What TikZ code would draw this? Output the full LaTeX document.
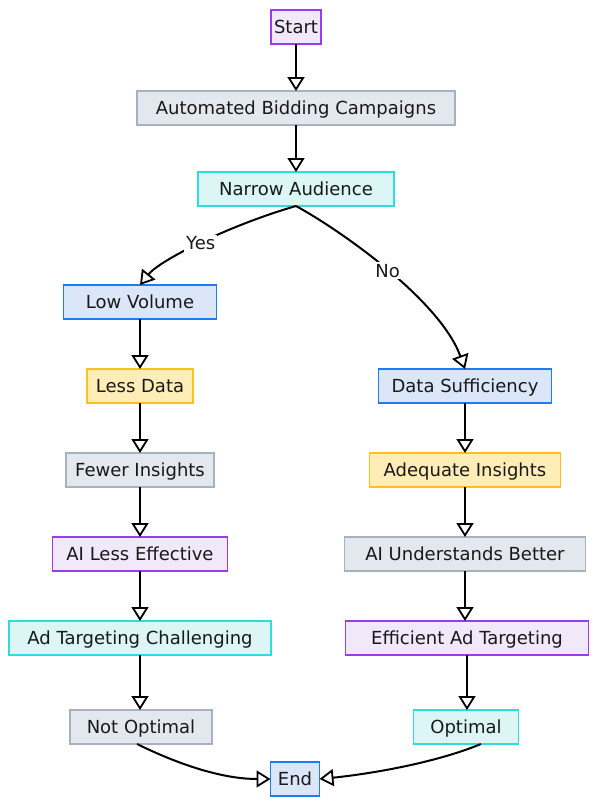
\documentclass[tikz,border=0pt]{standalone}
\usepackage{fontspec}
\setmainfont{DejaVu Sans}
\usetikzlibrary{arrows.meta}

\definecolor{purpleline}{HTML}{9A3BF0}
\definecolor{purplefill}{HTML}{F1E8FA}
\definecolor{grayline}{HTML}{A8B2BE}
\definecolor{grayfill}{HTML}{E3E7EE}
\definecolor{cyanline}{HTML}{2FDCDC}
\definecolor{cyanfill}{HTML}{DCF5F5}
\definecolor{blueline}{HTML}{1C7CF0}
\definecolor{bluefill}{HTML}{DBE6F8}
\definecolor{yellowline}{HTML}{FFC01E}
\definecolor{yellowfill}{HTML}{FFEDB8}

\begin{document}
\begin{tikzpicture}[x=1pt, y=-1pt,
  every node/.style={font=\fontsize{18}{21}\selectfont, text=black!90},
  box/.style={draw, line width=1.8pt, minimum height=34pt, inner sep=0pt, outer sep=0pt,
    text height=16pt, text depth=3pt},
  purplebox/.style={box, draw=purpleline, fill=purplefill},
  graybox/.style={box, draw=grayline, fill=grayfill},
  cyanbox/.style={box, draw=cyanline, fill=cyanfill},
  bluebox/.style={box, draw=blueline, fill=bluefill},
  yellowbox/.style={box, draw=yellowline, fill=yellowfill},
  arr/.style={line width=2pt, -{Triangle[open, length=14pt, width=17pt, line width=1.8pt]}},
  lbl/.style={fill=white, inner sep=2pt}]
\useasboundingbox (0,0) rectangle (598,806);

\node[purplebox, minimum width=50pt] (start) at (296,27) {Start};
\node[graybox, minimum width=318pt] (abc) at (296,108) {Automated Bidding Campaigns};
\node[cyanbox, minimum width=196pt] (na) at (296,189) {Narrow Audience};

% left branch
\node[bluebox, minimum width=153pt] (lv) at (140,302) {Low Volume};
\node[yellowbox, minimum width=106pt] (ld) at (140,386) {Less Data};
\node[graybox, minimum width=148pt] (fi) at (140,470) {Fewer Insights};
\node[purplebox, minimum width=175pt] (ale) at (140,554) {AI Less Effective};
\node[cyanbox, minimum width=262pt] (atc) at (140,638) {Ad Targeting Challenging};
\node[graybox, minimum width=142pt] (no) at (141,727) {Not Optimal};

% right branch
\node[bluebox, minimum width=173pt] (ds) at (465,386) {Data Sufficiency};
\node[yellowbox, minimum width=191pt] (ai) at (465,470) {Adequate Insights};
\node[graybox, minimum width=241pt] (aub) at (465,554) {AI Understands Better};
\node[purplebox, minimum width=243pt] (eat) at (467,638) {Efficient Ad Targeting};
\node[cyanbox, minimum width=105pt] (op) at (466,727) {Optimal};

\node[bluebox, minimum width=49pt] (end) at (295,779) {End};

\draw[arr] (start) -- (abc);
\draw[arr] (abc) -- (na);
\draw[arr] (na.south) .. controls (230,225) and (160,260) .. (lv.north) node[lbl, pos=.5] {Yes};
\draw[arr] (na.south) .. controls (340,230) and (440,300) .. (ds.north) node[lbl, pos=.5] {No};

\draw[arr] (lv) -- (ld);
\draw[arr] (ld) -- (fi);
\draw[arr] (fi) -- (ale);
\draw[arr] (ale) -- (atc);
\draw[arr] (atc) -- (atc |- no.north);

\draw[arr] (ds) -- (ai);
\draw[arr] (ai) -- (aub);
\draw[arr] (aub) -- (aub |- eat.north);
\draw[arr] (eat) -- (eat |- op.north);

\draw[arr] ([xshift=-4pt]no.south) .. controls (190,770) and (230,779) .. (end.west);
\draw[arr] ([xshift=15pt]op.south) .. controls (430,765) and (360,775) .. (end.east);
\end{tikzpicture}
\end{document}
